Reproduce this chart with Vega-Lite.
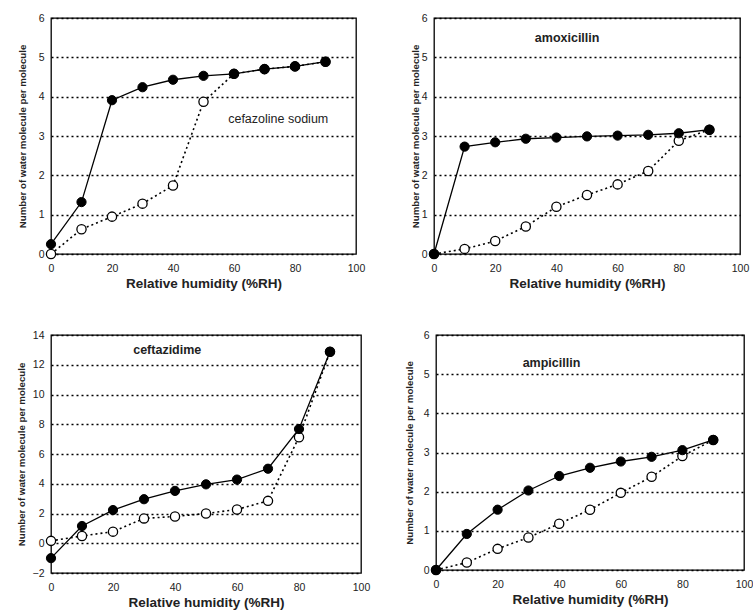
{
  "$schema": "https://vega.github.io/schema/vega-lite/v6.json",
  "background": "white",
  "padding": {"left": 15, "top": 12, "right": 0, "bottom": 2},
  "datasets": {
    "d": [
      {"drug": "cefazoline sodium", "series": "filled", "rh": 0, "n": 0.25},
      {"drug": "cefazoline sodium", "series": "filled", "rh": 10, "n": 1.32},
      {"drug": "cefazoline sodium", "series": "filled", "rh": 20, "n": 3.91},
      {"drug": "cefazoline sodium", "series": "filled", "rh": 30, "n": 4.24},
      {"drug": "cefazoline sodium", "series": "filled", "rh": 40, "n": 4.43},
      {"drug": "cefazoline sodium", "series": "filled", "rh": 50, "n": 4.53},
      {"drug": "cefazoline sodium", "series": "filled", "rh": 60, "n": 4.58},
      {"drug": "cefazoline sodium", "series": "filled", "rh": 70, "n": 4.7},
      {"drug": "cefazoline sodium", "series": "filled", "rh": 80, "n": 4.77},
      {"drug": "cefazoline sodium", "series": "filled", "rh": 90, "n": 4.89},
      {"drug": "cefazoline sodium", "series": "open", "rh": 0, "n": 0},
      {"drug": "cefazoline sodium", "series": "open", "rh": 10, "n": 0.63},
      {"drug": "cefazoline sodium", "series": "open", "rh": 20, "n": 0.95},
      {"drug": "cefazoline sodium", "series": "open", "rh": 30, "n": 1.28},
      {"drug": "cefazoline sodium", "series": "open", "rh": 40, "n": 1.74},
      {"drug": "cefazoline sodium", "series": "open", "rh": 50, "n": 3.87},
      {"drug": "cefazoline sodium", "series": "open", "rh": 60, "n": 4.58},
      {"drug": "cefazoline sodium", "series": "open", "rh": 70, "n": 4.7},
      {"drug": "cefazoline sodium", "series": "open", "rh": 80, "n": 4.77},
      {"drug": "cefazoline sodium", "series": "open", "rh": 90, "n": 4.89},
      {"drug": "amoxicillin", "series": "filled", "rh": 0, "n": 0},
      {"drug": "amoxicillin", "series": "filled", "rh": 10, "n": 2.73},
      {"drug": "amoxicillin", "series": "filled", "rh": 20, "n": 2.84},
      {"drug": "amoxicillin", "series": "filled", "rh": 30, "n": 2.93},
      {"drug": "amoxicillin", "series": "filled", "rh": 40, "n": 2.96},
      {"drug": "amoxicillin", "series": "filled", "rh": 50, "n": 2.99},
      {"drug": "amoxicillin", "series": "filled", "rh": 60, "n": 3.01},
      {"drug": "amoxicillin", "series": "filled", "rh": 70, "n": 3.03},
      {"drug": "amoxicillin", "series": "filled", "rh": 80, "n": 3.07},
      {"drug": "amoxicillin", "series": "filled", "rh": 90, "n": 3.16},
      {"drug": "amoxicillin", "series": "open", "rh": 0, "n": 0},
      {"drug": "amoxicillin", "series": "open", "rh": 10, "n": 0.13},
      {"drug": "amoxicillin", "series": "open", "rh": 20, "n": 0.33},
      {"drug": "amoxicillin", "series": "open", "rh": 30, "n": 0.7},
      {"drug": "amoxicillin", "series": "open", "rh": 40, "n": 1.2},
      {"drug": "amoxicillin", "series": "open", "rh": 50, "n": 1.5},
      {"drug": "amoxicillin", "series": "open", "rh": 60, "n": 1.77},
      {"drug": "amoxicillin", "series": "open", "rh": 70, "n": 2.11},
      {"drug": "amoxicillin", "series": "open", "rh": 80, "n": 2.88},
      {"drug": "amoxicillin", "series": "open", "rh": 90, "n": 3.16},
      {"drug": "ceftazidime", "series": "filled", "rh": 0, "n": -1.0},
      {"drug": "ceftazidime", "series": "filled", "rh": 10, "n": 1.16},
      {"drug": "ceftazidime", "series": "filled", "rh": 20, "n": 2.23},
      {"drug": "ceftazidime", "series": "filled", "rh": 30, "n": 2.96},
      {"drug": "ceftazidime", "series": "filled", "rh": 40, "n": 3.52},
      {"drug": "ceftazidime", "series": "filled", "rh": 50, "n": 3.96},
      {"drug": "ceftazidime", "series": "filled", "rh": 60, "n": 4.28},
      {"drug": "ceftazidime", "series": "filled", "rh": 70, "n": 5.01},
      {"drug": "ceftazidime", "series": "filled", "rh": 80, "n": 7.68},
      {"drug": "ceftazidime", "series": "filled", "rh": 90, "n": 12.87},
      {"drug": "ceftazidime", "series": "open", "rh": 0, "n": 0.16},
      {"drug": "ceftazidime", "series": "open", "rh": 10, "n": 0.49},
      {"drug": "ceftazidime", "series": "open", "rh": 20, "n": 0.78},
      {"drug": "ceftazidime", "series": "open", "rh": 30, "n": 1.67},
      {"drug": "ceftazidime", "series": "open", "rh": 40, "n": 1.8},
      {"drug": "ceftazidime", "series": "open", "rh": 50, "n": 2.0},
      {"drug": "ceftazidime", "series": "open", "rh": 60, "n": 2.27},
      {"drug": "ceftazidime", "series": "open", "rh": 70, "n": 2.85},
      {"drug": "ceftazidime", "series": "open", "rh": 80, "n": 7.13},
      {"drug": "ceftazidime", "series": "open", "rh": 90, "n": 12.87},
      {"drug": "ampicillin", "series": "filled", "rh": 0, "n": 0},
      {"drug": "ampicillin", "series": "filled", "rh": 10, "n": 0.92},
      {"drug": "ampicillin", "series": "filled", "rh": 20, "n": 1.54},
      {"drug": "ampicillin", "series": "filled", "rh": 30, "n": 2.03},
      {"drug": "ampicillin", "series": "filled", "rh": 40, "n": 2.4},
      {"drug": "ampicillin", "series": "filled", "rh": 50, "n": 2.61},
      {"drug": "ampicillin", "series": "filled", "rh": 60, "n": 2.77},
      {"drug": "ampicillin", "series": "filled", "rh": 70, "n": 2.89},
      {"drug": "ampicillin", "series": "filled", "rh": 80, "n": 3.06},
      {"drug": "ampicillin", "series": "filled", "rh": 90, "n": 3.32},
      {"drug": "ampicillin", "series": "open", "rh": 0, "n": 0},
      {"drug": "ampicillin", "series": "open", "rh": 10, "n": 0.19},
      {"drug": "ampicillin", "series": "open", "rh": 20, "n": 0.54},
      {"drug": "ampicillin", "series": "open", "rh": 30, "n": 0.83},
      {"drug": "ampicillin", "series": "open", "rh": 40, "n": 1.18},
      {"drug": "ampicillin", "series": "open", "rh": 50, "n": 1.54},
      {"drug": "ampicillin", "series": "open", "rh": 60, "n": 1.97},
      {"drug": "ampicillin", "series": "open", "rh": 70, "n": 2.38},
      {"drug": "ampicillin", "series": "open", "rh": 80, "n": 2.91},
      {"drug": "ampicillin", "series": "open", "rh": 90, "n": 3.32}
    ]
  },
  "data": {"name": "d"},
  "spacing": 38,
  "vconcat": [
    {
      "spacing": 43,
      "hconcat": [
        {
          "width": 305, "height": 236,
          "transform": [{"filter": "datum.drug === 'cefazoline sodium'"}],
          "encoding": {
            "x": {"field": "rh", "type": "quantitative", "scale": {"domain": [0, 100]}, "axis": {"values": [0, 20, 40, 60, 80, 100]}, "title": "Relative humidity (%RH)"},
            "y": {"field": "n", "type": "quantitative", "scale": {"domain": [0, 6]}, "axis": {"values": [0, 1, 2, 3, 4, 5, 6], "titlePadding": 11}, "title": "Number of water molecule per molecule"}
          },
          "layer": [
            {"transform": [{"filter": "datum.series === 'open'"}], "mark": {"type": "line", "color": "black", "strokeDash": [2, 3], "strokeWidth": 1.6}},
            {"transform": [{"filter": "datum.series === 'filled'"}], "mark": {"type": "line", "color": "black", "strokeWidth": 1.3}},
            {"transform": [{"filter": "datum.series === 'open'"}], "mark": {"type": "point", "shape": "circle", "filled": true, "fill": "white", "stroke": "black", "strokeWidth": 1.3, "size": 85, "opacity": 1}},
            {"transform": [{"filter": "datum.series === 'filled'"}], "mark": {"type": "point", "shape": "circle", "filled": true, "fill": "black", "stroke": "black", "strokeWidth": 1, "size": 85, "opacity": 1}},
            {"transform": [{"filter": "datum.series === 'filled' && datum.rh === 0"}], "mark": {"type": "text", "font": "Liberation Sans", "fontSize": 12.5, "color": "#222", "text": "cefazoline sodium"}, "encoding": {"x": {"datum": 74.5}, "y": {"datum": 3.43}}}
          ]
        },
        {
          "width": 306, "height": 236,
          "transform": [{"filter": "datum.drug === 'amoxicillin'"}],
          "encoding": {
            "x": {"field": "rh", "type": "quantitative", "scale": {"domain": [0, 100]}, "axis": {"values": [0, 20, 40, 60, 80, 100]}, "title": "Relative humidity (%RH)"},
            "y": {"field": "n", "type": "quantitative", "scale": {"domain": [0, 6]}, "axis": {"values": [0, 1, 2, 3, 4, 5, 6], "titlePadding": 1}, "title": "Number of water molecule per molecule"}
          },
          "layer": [
            {"transform": [{"filter": "datum.series === 'open'"}], "mark": {"type": "line", "color": "black", "strokeDash": [2, 3], "strokeWidth": 1.6}},
            {"transform": [{"filter": "datum.series === 'filled'"}], "mark": {"type": "line", "color": "black", "strokeWidth": 1.3}},
            {"transform": [{"filter": "datum.series === 'open'"}], "mark": {"type": "point", "shape": "circle", "filled": true, "fill": "white", "stroke": "black", "strokeWidth": 1.3, "size": 85, "opacity": 1}},
            {"transform": [{"filter": "datum.series === 'filled'"}], "mark": {"type": "point", "shape": "circle", "filled": true, "fill": "black", "stroke": "black", "strokeWidth": 1, "size": 85, "opacity": 1}},
            {"transform": [{"filter": "datum.series === 'filled' && datum.rh === 0"}], "mark": {"type": "text", "font": "Liberation Sans", "fontSize": 12.5, "fontWeight": "bold", "color": "#222", "text": "amoxicillin"}, "encoding": {"x": {"datum": 43.5}, "y": {"datum": 5.48}}}
          ]
        }
      ]
    },
    {
      "spacing": 32,
      "hconcat": [
        {
          "width": 310, "height": 238,
          "transform": [{"filter": "datum.drug === 'ceftazidime'"}],
          "encoding": {
            "x": {"field": "rh", "type": "quantitative", "scale": {"domain": [0, 100]}, "axis": {"values": [0, 20, 40, 60, 80, 100]}, "title": "Relative humidity (%RH)"},
            "y": {"field": "n", "type": "quantitative", "scale": {"domain": [-2, 14]}, "axis": {"values": [-2, 0, 2, 4, 6, 8, 10, 12, 14], "titlePadding": 6}, "title": "Number of water molecule per molecule"}
          },
          "layer": [
            {"transform": [{"filter": "datum.series === 'open'"}], "mark": {"type": "line", "color": "black", "strokeDash": [2, 3], "strokeWidth": 1.6}},
            {"transform": [{"filter": "datum.series === 'filled'"}], "mark": {"type": "line", "color": "black", "strokeWidth": 1.3}},
            {"transform": [{"filter": "datum.series === 'open'"}], "mark": {"type": "point", "shape": "circle", "filled": true, "fill": "white", "stroke": "black", "strokeWidth": 1.3, "size": 85, "opacity": 1}},
            {"transform": [{"filter": "datum.series === 'filled'"}], "mark": {"type": "point", "shape": "circle", "filled": true, "fill": "black", "stroke": "black", "strokeWidth": 1, "size": 85, "opacity": 1}},
            {"transform": [{"filter": "datum.series === 'filled' && datum.rh === 0"}], "mark": {"type": "text", "font": "Liberation Sans", "fontSize": 12.5, "fontWeight": "bold", "color": "#222", "text": "ceftazidime"}, "encoding": {"x": {"datum": 37.5}, "y": {"datum": 13.0}}}
          ]
        },
        {
          "width": 308, "height": 235,
          "transform": [{"filter": "datum.drug === 'ampicillin'"}],
          "encoding": {
            "x": {"field": "rh", "type": "quantitative", "scale": {"domain": [0, 100]}, "axis": {"values": [0, 20, 40, 60, 80, 100]}, "title": "Relative humidity (%RH)"},
            "y": {"field": "n", "type": "quantitative", "scale": {"domain": [0, 6]}, "axis": {"values": [0, 1, 2, 3, 4, 5, 6], "titlePadding": 9}, "title": "Number of water molecule per molecule"}
          },
          "layer": [
            {"transform": [{"filter": "datum.series === 'open'"}], "mark": {"type": "line", "color": "black", "strokeDash": [2, 3], "strokeWidth": 1.6}},
            {"transform": [{"filter": "datum.series === 'filled'"}], "mark": {"type": "line", "color": "black", "strokeWidth": 1.3}},
            {"transform": [{"filter": "datum.series === 'open'"}], "mark": {"type": "point", "shape": "circle", "filled": true, "fill": "white", "stroke": "black", "strokeWidth": 1.3, "size": 85, "opacity": 1}},
            {"transform": [{"filter": "datum.series === 'filled'"}], "mark": {"type": "point", "shape": "circle", "filled": true, "fill": "black", "stroke": "black", "strokeWidth": 1, "size": 85, "opacity": 1}},
            {"transform": [{"filter": "datum.series === 'filled' && datum.rh === 0"}], "mark": {"type": "text", "font": "Liberation Sans", "fontSize": 12.5, "fontWeight": "bold", "color": "#222", "text": "ampicillin"}, "encoding": {"x": {"datum": 37.5}, "y": {"datum": 5.28}}}
          ]
        }
      ]
    }
  ],
  "config": {
    "view": {"stroke": "black", "strokeWidth": 1.3},
    "axis": {
      "grid": false, "domain": false, "ticks": false, "labelFlush": false,
      "labelFont": "Liberation Sans", "labelFontSize": 10.5, "labelColor": "#222",
      "titleFont": "Liberation Sans", "titleColor": "#222", "titleFontWeight": "bold"
    },
    "axisY": {"grid": true, "gridColor": "black", "gridDash": [2, 3], "gridWidth": 1.3, "labelPadding": 7, "titleFontSize": 9.7},
    "axisX": {"labelPadding": 9, "titleFontSize": 13.5, "titlePadding": 3}
  }
}
